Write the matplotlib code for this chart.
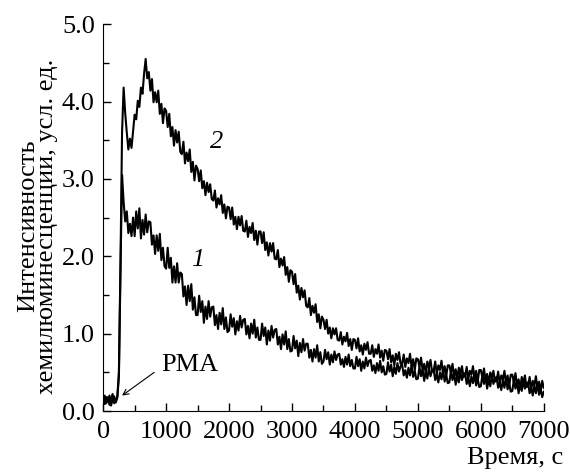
import numpy as np
import matplotlib
matplotlib.use("Agg")
import matplotlib.pyplot as plt
from matplotlib.ticker import MultipleLocator, FormatStrFormatter

plt.rcParams['font.family'] = ['Liberation Serif', 'DejaVu Serif']

# time grid, s (one reading every 25 s)
time_s = np.arange(0, 7001, 25)

# curve 2 (upper), 10 readings per row (250 s)
curve2 = [
    0.12, 0.20, 0.10, 0.18, 0.08, 0.16, 0.22, 0.10, 0.14, 0.19,
    0.50, 1.90, 3.60, 4.18, 3.85, 3.60, 3.38, 3.52, 3.40, 3.62,
    3.83, 3.77, 4.01, 3.93, 4.18, 4.10, 4.36, 4.55, 4.30, 4.38,
    4.14, 4.29, 3.99, 4.12, 3.99, 4.14, 3.84, 3.97, 3.72, 3.91,
    3.88, 3.67, 3.84, 3.55, 3.67, 3.43, 3.63, 3.47, 3.61, 3.35,
    3.32, 3.48, 3.20, 3.34, 3.23, 3.38, 3.09, 3.22, 2.98, 3.17,
    3.13, 2.97, 3.11, 2.88, 2.97, 2.79, 2.95, 2.83, 2.93, 2.74,
    2.72, 2.85, 2.63, 2.75, 2.67, 2.79, 2.56, 2.67, 2.49, 2.64,
    2.63, 2.48, 2.63, 2.41, 2.51, 2.35, 2.51, 2.40, 2.52, 2.33,
    2.32, 2.46, 2.25, 2.38, 2.30, 2.43, 2.21, 2.33, 2.15, 2.32,
    2.32, 2.17, 2.31, 2.08, 2.18, 2.01, 2.17, 2.06, 2.17, 1.97,
    1.96, 2.08, 1.86, 1.97, 1.88, 1.99, 1.76, 1.86, 1.67, 1.82,
    1.80, 1.64, 1.77, 1.53, 1.62, 1.44, 1.59, 1.47, 1.56, 1.36,
    1.34, 1.46, 1.24, 1.36, 1.27, 1.38, 1.15, 1.25, 1.07, 1.22,
    1.18, 1.06, 1.18, 1.00, 1.08, 0.94, 1.07, 0.99, 1.07, 0.92,
    0.91, 1.02, 0.86, 0.96, 0.90, 1.01, 0.84, 0.93, 0.79, 0.93,
    0.92, 0.81, 0.94, 0.77, 0.85, 0.73, 0.87, 0.79, 0.89, 0.74,
    0.74, 0.85, 0.70, 0.80, 0.74, 0.86, 0.69, 0.78, 0.65, 0.79,
    0.78, 0.67, 0.80, 0.63, 0.72, 0.59, 0.74, 0.66, 0.76, 0.61,
    0.61, 0.73, 0.57, 0.68, 0.62, 0.74, 0.57, 0.67, 0.53, 0.68,
    0.67, 0.57, 0.69, 0.53, 0.61, 0.49, 0.64, 0.56, 0.66, 0.51,
    0.52, 0.64, 0.48, 0.59, 0.53, 0.65, 0.49, 0.58, 0.45, 0.59,
    0.59, 0.49, 0.61, 0.45, 0.54, 0.41, 0.56, 0.49, 0.58, 0.44,
    0.45, 0.57, 0.41, 0.52, 0.47, 0.58, 0.42, 0.52, 0.38, 0.53,
    0.53, 0.43, 0.55, 0.39, 0.48, 0.35, 0.50, 0.43, 0.52, 0.38,
    0.39, 0.51, 0.35, 0.46, 0.41, 0.52, 0.36, 0.46, 0.32, 0.47,
    0.47, 0.37, 0.49, 0.33, 0.41, 0.29, 0.44, 0.36, 0.46, 0.31,
    0.32, 0.44, 0.28, 0.39, 0.33, 0.45, 0.29, 0.38, 0.25, 0.39,
    0.30,
]

# curve 1 (lower)
curve1 = [
    0.16, 0.09, 0.18, 0.12, 0.20, 0.07, 0.15, 0.19, 0.11, 0.17,
    0.45, 1.80, 3.05, 2.70, 2.45, 2.58, 2.30, 2.42, 2.26, 2.50,
    2.26, 2.58, 2.36, 2.62, 2.23, 2.47, 2.28, 2.54, 2.31, 2.45,
    2.44, 2.15, 2.27, 2.03, 2.27, 2.07, 2.29, 1.95, 2.11, 1.87,
    1.84, 2.11, 1.85, 1.98, 1.66, 1.87, 1.66, 1.91, 1.66, 1.79,
    1.77, 1.48, 1.61, 1.37, 1.62, 1.42, 1.64, 1.31, 1.47, 1.24,
    1.24, 1.49, 1.28, 1.42, 1.14, 1.35, 1.19, 1.42, 1.22, 1.34,
    1.35, 1.11, 1.24, 1.06, 1.27, 1.12, 1.33, 1.06, 1.21, 1.02,
    1.04, 1.25, 1.09, 1.20, 0.99, 1.16, 1.04, 1.23, 1.08, 1.18,
    1.19, 0.99, 1.10, 0.94, 1.13, 1.00, 1.18, 0.95, 1.08, 0.92,
    0.92, 1.13, 0.97, 1.08, 0.86, 1.04, 0.91, 1.10, 0.95, 1.05,
    1.06, 0.86, 0.96, 0.80, 0.99, 0.86, 1.03, 0.80, 0.93, 0.77,
    0.78, 0.97, 0.81, 0.91, 0.71, 0.88, 0.76, 0.93, 0.78, 0.87,
    0.87, 0.69, 0.79, 0.64, 0.80, 0.69, 0.85, 0.64, 0.76, 0.61,
    0.64, 0.79, 0.67, 0.76, 0.60, 0.73, 0.63, 0.77, 0.66, 0.73,
    0.74, 0.60, 0.67, 0.57, 0.70, 0.60, 0.73, 0.58, 0.66, 0.55,
    0.55, 0.70, 0.58, 0.67, 0.52, 0.64, 0.55, 0.69, 0.58, 0.65,
    0.66, 0.52, 0.59, 0.49, 0.62, 0.52, 0.65, 0.50, 0.58, 0.47,
    0.48, 0.63, 0.51, 0.60, 0.45, 0.57, 0.48, 0.62, 0.51, 0.58,
    0.60, 0.46, 0.53, 0.43, 0.56, 0.46, 0.59, 0.44, 0.52, 0.41,
    0.42, 0.57, 0.45, 0.54, 0.39, 0.51, 0.42, 0.56, 0.45, 0.52,
    0.54, 0.40, 0.48, 0.37, 0.50, 0.41, 0.54, 0.38, 0.47, 0.36,
    0.37, 0.52, 0.40, 0.49, 0.34, 0.46, 0.37, 0.51, 0.40, 0.47,
    0.49, 0.35, 0.42, 0.32, 0.45, 0.36, 0.48, 0.33, 0.42, 0.31,
    0.32, 0.47, 0.35, 0.44, 0.29, 0.41, 0.32, 0.46, 0.35, 0.42,
    0.44, 0.30, 0.37, 0.27, 0.40, 0.30, 0.43, 0.28, 0.36, 0.25,
    0.26, 0.41, 0.29, 0.38, 0.23, 0.35, 0.26, 0.40, 0.29, 0.36,
    0.37, 0.23, 0.30, 0.20, 0.33, 0.23, 0.36, 0.21, 0.29, 0.18,
    0.25,
]

fig = plt.figure(figsize=(5.7, 4.73), dpi=100)
ax = fig.add_axes([0.181, 0.131, 0.773, 0.818])

ax.plot(time_s, curve1, color='black', lw=1.5)
ax.plot(time_s, curve2, color='black', lw=1.5)

ax.set_xlim(0, 7000)
ax.set_ylim(0, 5)
ax.xaxis.set_major_locator(MultipleLocator(1000))
ax.xaxis.set_minor_locator(MultipleLocator(500))
ax.yaxis.set_major_locator(MultipleLocator(1))
ax.yaxis.set_minor_locator(MultipleLocator(0.5))
ax.yaxis.set_major_formatter(FormatStrFormatter('%.1f'))
ax.tick_params(which='both', direction='in', labelsize=19, width=1)
ax.tick_params(which='major', length=6)
ax.tick_params(which='minor', length=4)
ax.tick_params(axis='y', pad=6)
ax.tick_params(axis='x', pad=7)
ax.spines['top'].set_visible(False)
ax.spines['right'].set_visible(False)

ax.text(1800, 3.48, '2', fontsize=19, style='italic', ha='center', va='center')
ax.text(1500, 1.95, '1', fontsize=19, style='italic', ha='center', va='center')
ax.text(930, 0.59, 'PMA', fontsize=19, ha='left', va='center')
ax.annotate('', xy=(300, 0.2), xytext=(811, 0.50),
            arrowprops=dict(arrowstyle='->', color='black', lw=0.8,
                            shrinkA=0, shrinkB=0))

fig.text(0.988, 1 - 458 / 473, 'Время, с', fontsize=19, ha='right', va='center')
fig.text(0.066, 1 - 226 / 473, 'Интенсивность\nхемилюминесценции, усл. ед.',
         fontsize=19, rotation=90, ha='center', va='center',
         multialignment='center', linespacing=0.85)

fig.savefig('out.png', dpi=100)
